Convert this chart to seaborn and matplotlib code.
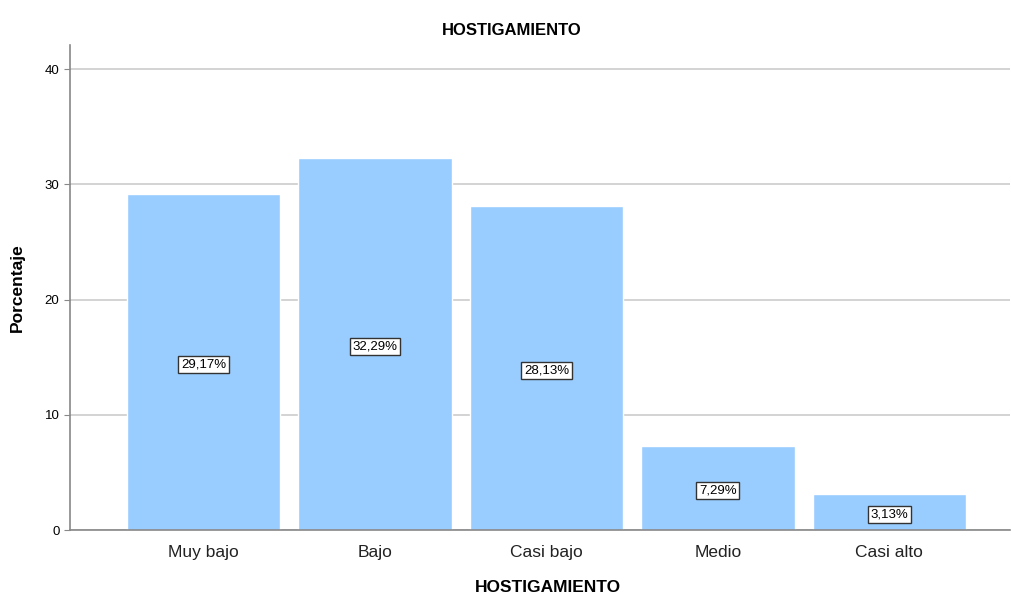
import pandas as pd
import seaborn as sns
import matplotlib.pyplot as plt

# Datos del gráfico
categorias = ["Muy bajo", "Bajo", "Casi bajo", "Medio", "Casi alto"]
porcentajes = [29.17, 32.29, 28.13, 7.29, 3.13]
etiquetas = ["29,17%", "32,29%", "28,13%", "7,29%", "3,13%"]

df = pd.DataFrame({"categoria": categorias, "porcentaje": porcentajes})

sns.set_style("white")
plt.rcParams['font.family'] = ['Liberation Sans', 'DejaVu Sans']
plt.rcParams['text.color'] = 'black'

fig = plt.figure(figsize=(10.11, 5.96), dpi=100)
ax = fig.add_axes([0.0692, 0.1107, 0.93, 0.8138])

sns.barplot(data=df, x="categoria", y="porcentaje", color="#99ccff",
            saturation=1, width=0.895, ax=ax, zorder=2)

# etiquetas dentro de las barras
for i, (v, t) in enumerate(zip(porcentajes, etiquetas)):
    ax.text(i, v / 2 - 0.2, t, ha="center", va="center", fontsize=9.5,
            color="black", zorder=3,
            bbox=dict(boxstyle="square,pad=0.2", facecolor="white",
                      edgecolor="#333333", linewidth=1))

ax.set_ylim(0, 42.1)
ax.set_xlim(-0.779, 4.705)
ax.set_yticks([0, 10, 20, 30, 40])
ax.yaxis.grid(True, color="#cccccc", linewidth=1.2, zorder=0)
ax.set_axisbelow(True)

for s in ["top", "right"]:
    ax.spines[s].set_visible(False)
ax.spines["left"].set_color("#888888")
ax.spines["bottom"].set_color("#888888")
ax.spines["left"].set_linewidth(1.2)
ax.spines["bottom"].set_linewidth(1.2)

ax.tick_params(axis="y", labelsize=9.5, length=4, color="#888888",
               left=True, labelcolor="black")
ax.tick_params(axis="x", labelsize=12.5, length=0, pad=11, labelcolor="#222222")
ax.set_xlabel("HOSTIGAMIENTO", fontsize=12.5, fontweight="bold",
              labelpad=14, color="black", x=0.508)
ax.set_ylabel("Porcentaje", fontsize=12.5, fontweight="bold",
              labelpad=14, color="black")
ax.set_title("HOSTIGAMIENTO", fontsize=12, fontweight="bold", pad=7,
             color="black", x=0.47)

plt.savefig("out.png", dpi=100)
